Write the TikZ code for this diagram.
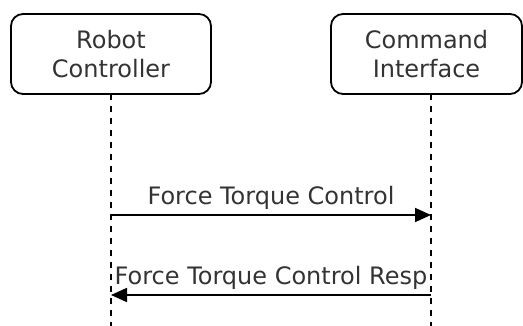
\documentclass[tikz,border=0pt]{standalone}
\usepackage{fontspec}
\setmainfont{DejaVu Sans}
\usetikzlibrary{arrows.meta}
\begin{document}
\begin{tikzpicture}[x=1pt,y=-1pt,
  actor/.style={draw, line width=1.8pt, rounded corners=12pt, align=center,
    minimum height=80pt, inner sep=0pt, font=\fontsize{24}{29}\selectfont, text=black!80},
  lifeline/.style={line width=1.8pt, dash pattern=on 6pt off 6pt},
  msg/.style={line width=1.8pt, -{Triangle[length=16pt,width=14pt]}},
  lbl/.style={font=\fontsize{24}{29}\selectfont, text=black!80, inner sep=0pt}]
\useasboundingbox (0,0) rectangle (523,326);
\node[actor, minimum width=200pt] (rc) at (111,54) {Robot\\Controller};
\node[actor, minimum width=191pt] (ci) at (426.5,54) {Command\\Interface};
\coordinate (ltop) at (111,94);
\coordinate (lbot) at (111,330);
\coordinate (rtop) at (431,94);
\coordinate (rbot) at (431,330);
\draw[lifeline] (ltop) -- (lbot);
\draw[lifeline] (rtop) -- (rbot);
\coordinate (a1s) at (111,215);
\coordinate (a1e) at (431,215);
\coordinate (a2s) at (431,295);
\coordinate (a2e) at (111,295);
\draw[msg] (a1s) -- node[lbl, anchor=base, yshift=10pt] (l1) {Force Torque Control} (a1e);
\draw[msg] (a2s) -- node[lbl, anchor=base, yshift=10pt] (l2) {Force Torque Control Resp} (a2e);
\end{tikzpicture}
\end{document}
